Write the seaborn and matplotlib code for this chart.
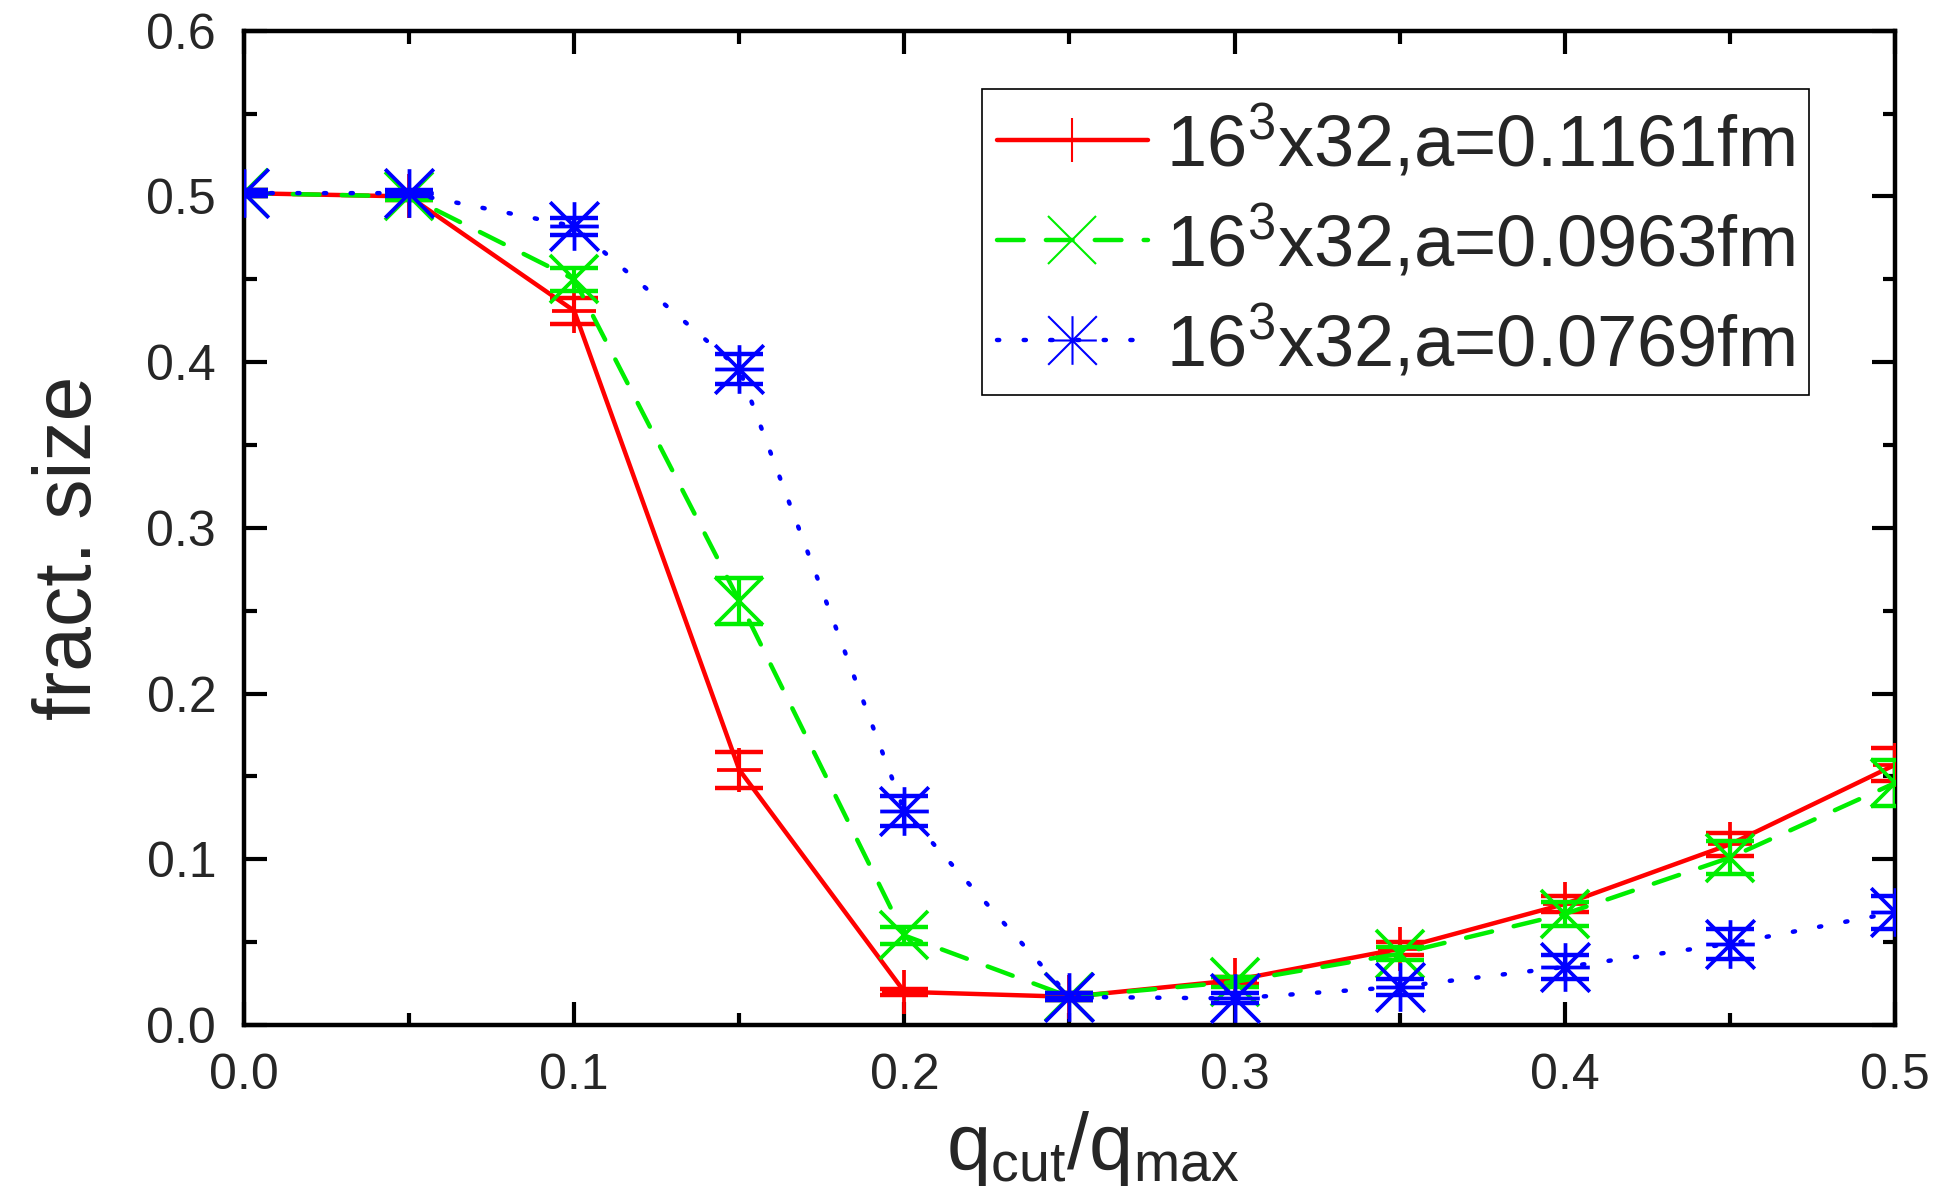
import numpy as np
import pandas as pd
import matplotlib
matplotlib.use("Agg")
import matplotlib.pyplot as plt
from matplotlib.path import Path
import seaborn as sns

# values
q_ratio = [0.0, 0.05, 0.10, 0.15, 0.20, 0.25, 0.30, 0.35, 0.40, 0.45, 0.50]

size_a1161 = [0.502, 0.500, 0.431, 0.154, 0.020, 0.017, 0.027, 0.046, 0.073, 0.109, 0.157]
err_a1161 = [0.002, 0.002, 0.008, 0.011, 0.002, 0.002, 0.002, 0.004, 0.005, 0.007, 0.010]

size_a0963 = [0.502, 0.500, 0.450, 0.256, 0.054, 0.017, 0.026, 0.043, 0.067, 0.101, 0.146]
err_a0963 = [0.002, 0.002, 0.007, 0.014, 0.005, 0.002, 0.003, 0.004, 0.007, 0.010, 0.014]

size_a0769 = [0.502, 0.502, 0.482, 0.396, 0.129, 0.017, 0.016, 0.023, 0.035, 0.049, 0.068]
err_a0769 = [0.002, 0.002, 0.005, 0.009, 0.009, 0.002, 0.003, 0.005, 0.007, 0.009, 0.010]

labels = ["16$^{3}$x32,a=0.1161fm", "16$^{3}$x32,a=0.0963fm", "16$^{3}$x32,a=0.0769fm"]

sns.set_theme(style="ticks")
plt.rcParams["font.family"] = ["Liberation Sans", "DejaVu Sans"]
plt.rcParams["mathtext.fontset"] = "custom"
plt.rcParams["mathtext.rm"] = "Liberation Sans"
plt.rcParams["mathtext.default"] = "rm"

# origin style asterisk: vertical, horizontal and both diagonals
asterisk = Path(
    [(-1, 0), (1, 0), (0, -1), (0, 1), (-1, -1), (1, 1), (-1, 1), (1, -1)],
    [Path.MOVETO, Path.LINETO] * 4,
)

fig = plt.figure(figsize=(19.5, 11.96), dpi=100)
ax = fig.add_axes([0.1251, 0.143, 0.8467, 0.8313])

series = [
    (size_a1161, err_a1161, "#ff0000", "-", "+", 31, labels[0]),
    (size_a0963, err_a0963, "#00ee00", (0, (6, 5)), "x", 34, labels[1]),
    (size_a0769, err_a0769, "#0000ff", (0, (0.5, 5.5)), asterisk, 35, labels[2]),
]

for ys, es, col, ls, mk, ms, lab in series:
    df = pd.DataFrame({"q": q_ratio, "size": ys})
    sns.lineplot(data=df, x="q", y="size", ax=ax, color=col, linestyle=ls,
                 linewidth=3.2, marker=mk, markersize=ms, markeredgewidth=2.7,
                 markerfacecolor="none", markeredgecolor=col,
                 dash_capstyle="round", label=lab, zorder=3)
    ax.errorbar(q_ratio, ys, yerr=es, fmt="none", ecolor=col, elinewidth=3,
                capsize=17, capthick=3.2, zorder=3)

ax.set_xlim(0, 0.5)
ax.set_ylim(0, 0.6)
ax.set_xticks(np.arange(0, 0.51, 0.1))
ax.set_yticks(np.arange(0, 0.61, 0.1))
ax.set_xticks(np.arange(0.05, 0.5, 0.1), minor=True)
ax.set_yticks(np.arange(0.05, 0.6, 0.1), minor=True)
ax.xaxis.set_major_formatter(matplotlib.ticker.FormatStrFormatter("%.1f"))
ax.yaxis.set_major_formatter(matplotlib.ticker.FormatStrFormatter("%.1f"))

ax.tick_params(which="both", direction="in", top=True, right=True,
               width=3, color="black", labelsize=36, pad=20)
ax.tick_params(which="major", length=16.5)
ax.tick_params(which="minor", length=9)
for sp in ax.spines.values():
    sp.set_linewidth(3.2)
    sp.set_color("black")

ax.set_xlabel("q$_{cut}$/q$_{max}$", fontsize=57)
ax.xaxis.set_label_coords(0.514, -0.085)
ax.set_ylabel("fract. size", fontsize=58)
ax.yaxis.set_label_coords(-0.0825, 0.48)

leg = ax.legend(loc="upper right", bbox_to_anchor=(0.948, 0.941),
                borderaxespad=0, fontsize=52, frameon=True, fancybox=False,
                framealpha=1, edgecolor="black", handlelength=2.1,
                handletextpad=0.25, labelspacing=0.32, borderpad=0.2)
leg.get_frame().set_linewidth(1.2)
for h in leg.legend_handles:
    h.set_markeredgewidth(1.5)

fig.savefig("out.png", dpi=100)
